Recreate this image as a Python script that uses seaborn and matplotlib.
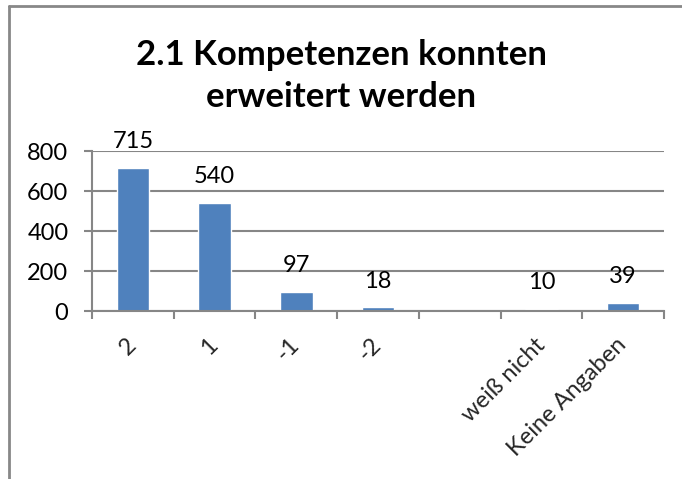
import matplotlib
matplotlib.use("Agg")
import matplotlib.pyplot as plt
import seaborn as sns
import pandas as pd
from matplotlib.lines import Line2D

categories = ["2", "1", "-1", "-2", "", "weiß nicht", "Keine Angaben"]
values = [715, 540, 97, 18, None, 10, 39]
yticks = [0, 200, 400, 600, 800]
title = "2.1 Kompetenzen konnten\nerweitert werden"

sns.set_theme(style="white")
plt.rcParams['font.family'] = ['Lato', 'DejaVu Sans']

df = pd.DataFrame({"cat": categories, "val": values})

W, H = 682, 479
fig = plt.figure(figsize=(W / 100, H / 100), dpi=100)
ax = fig.add_axes([92 / W, 1 - 311 / H, (664 - 92) / W, (311 - 151) / H])

sns.barplot(data=df, x="cat", y="val", order=categories, color="#4F81BD",
            saturation=1, width=0.4, ax=ax, zorder=3)

grid_c = "#868686"
fs = 17
ax.set_ylim(0, 800)
ax.set_xlim(-0.5, len(categories) - 0.5)
ax.set_yticks(yticks)
ax.set_yticklabels([str(t) for t in yticks], fontsize=fs, color="black")
ax.yaxis.grid(True, color=grid_c, linewidth=1.5, zorder=0)
ax.set_axisbelow(True)

for s in ["top", "right"]:
    ax.spines[s].set_visible(False)
for s in ["left", "bottom"]:
    ax.spines[s].set_color(grid_c)
    ax.spines[s].set_linewidth(1.5)
    ax.spines[s].set_zorder(4)

ax.tick_params(axis="y", which="major", left=True, length=6, width=1.5,
               color=grid_c, pad=11)

# x ticks: marks at boundaries, labels at centers
ax.set_xticks([i - 0.5 for i in range(len(categories) + 1)])
ax.set_xticklabels([""] * (len(categories) + 1))
ax.tick_params(axis="x", which="major", bottom=True, length=6, width=1.5,
               color=grid_c)
ax.set_xticks(list(range(len(categories))), minor=True)
ax.set_xticklabels(categories, minor=True, fontsize=fs, rotation=45,
                   ha="right", va="center", rotation_mode="anchor")
ax.tick_params(axis="x", which="minor", length=0, pad=22)

ax.set_xlabel("")
ax.set_ylabel("")

for i, v in enumerate(values):
    if v is None:
        continue
    ax.annotate(str(v), (i, v), xytext=(0, 19), textcoords="offset points",
                ha="center", va="center", fontsize=fs, color="black")

fig.text(0.5, 1 - 76 / H, title, ha="center", va="center", fontsize=25,
         fontweight="bold", linespacing=1.38, color="black")

# outer chart frame (partially cropped)
fig.add_artist(Line2D([9 / W, 1.0], [1 - 6 / H, 1 - 6 / H],
                      transform=fig.transFigure, color="#888888", linewidth=2))
fig.add_artist(Line2D([9 / W, 9 / W], [0, 1 - 6 / H],
                      transform=fig.transFigure, color="#888888", linewidth=2))

fig.savefig("out.png", dpi=100)
